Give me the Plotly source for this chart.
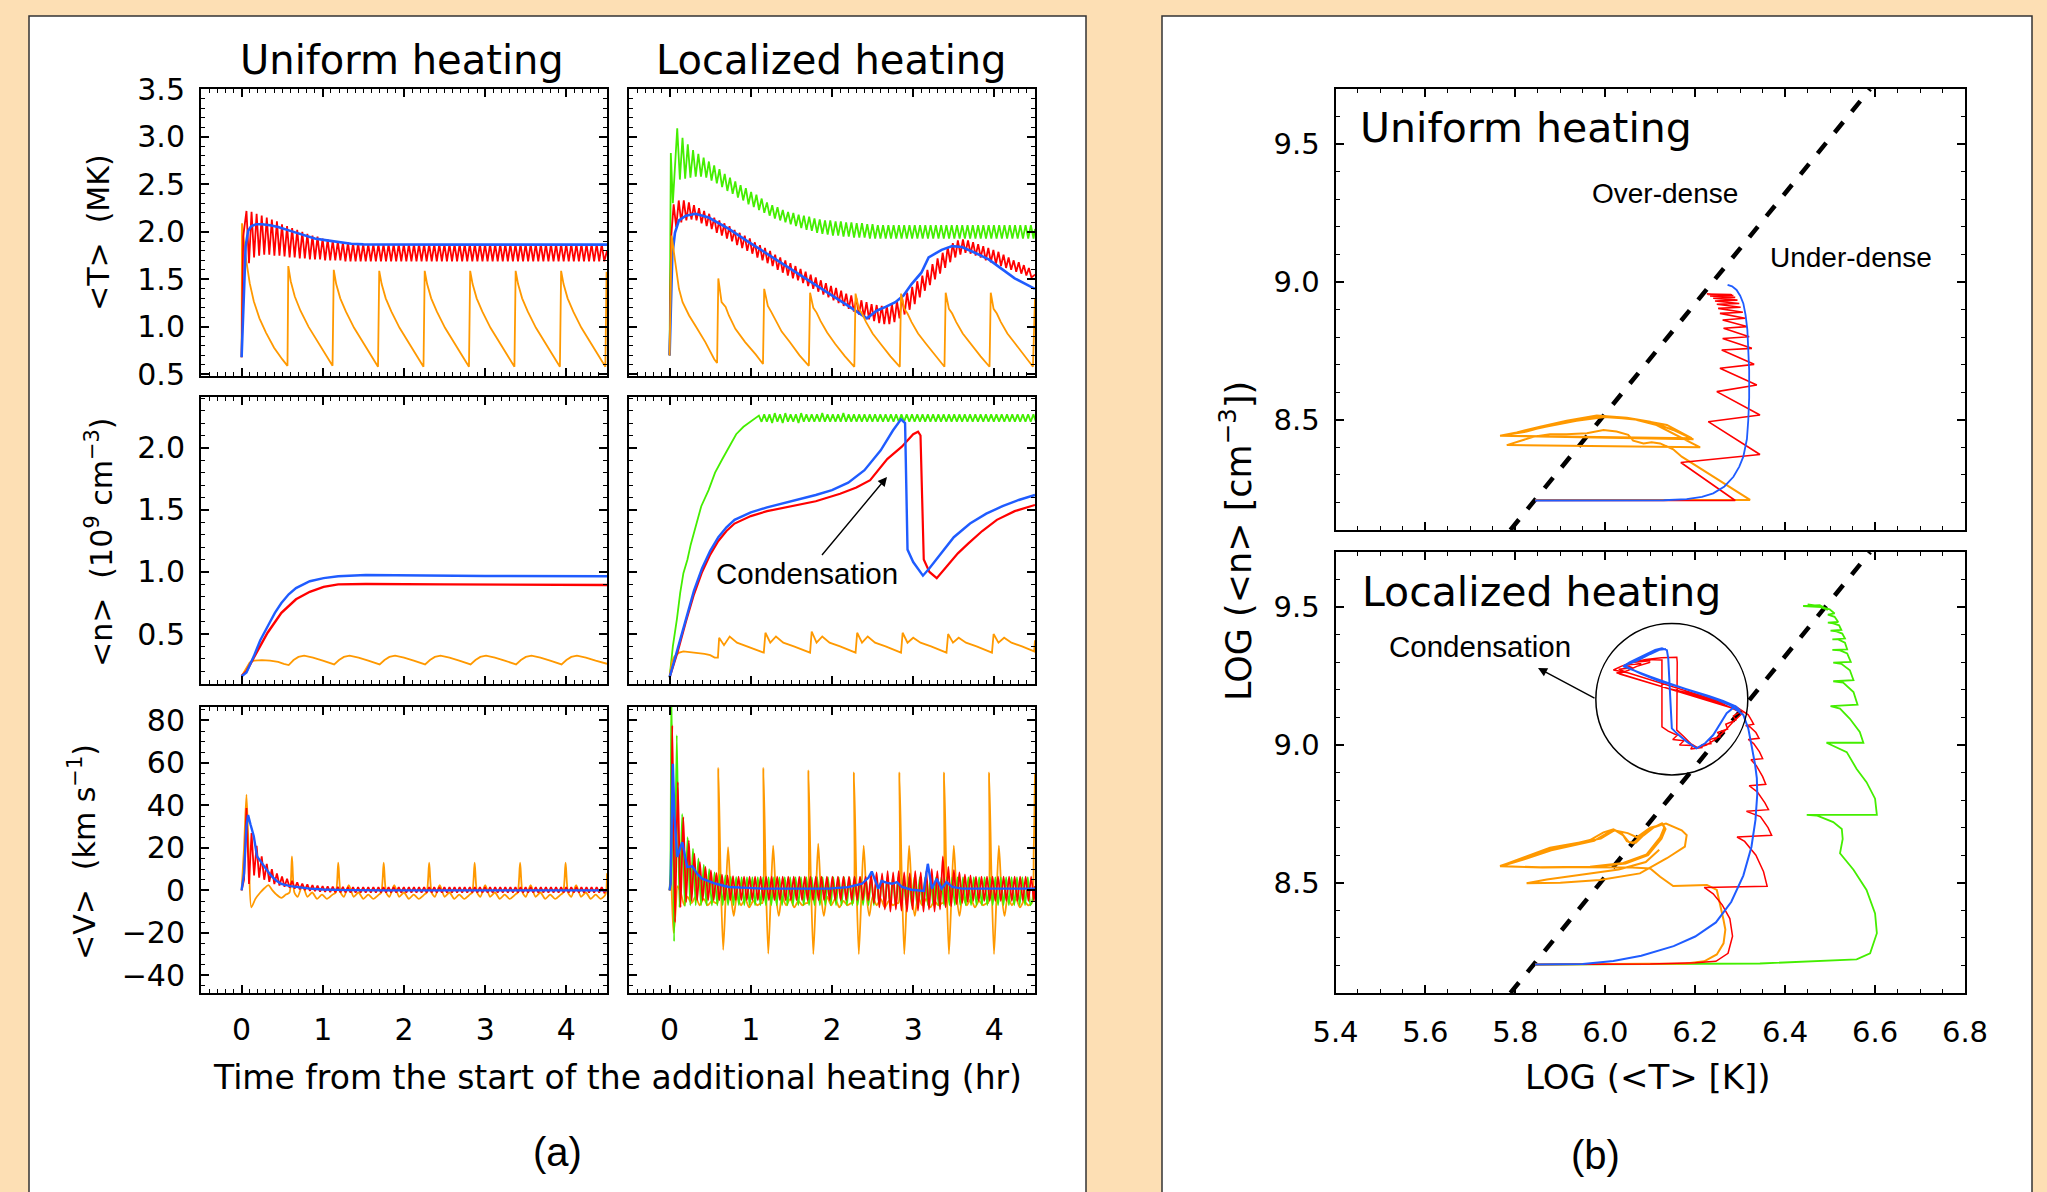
import plotly.graph_objects as go

W, H = 2047, 1192
BG = "#FDDFB4"
BLUE, RED, GREEN, ORANGE = "#1F5CFF", "#FF0000", "#44EE00", "#FF9900"
NUM_FONT = "DejaVu Sans, Verdana, sans-serif"
LBL_FONT = "Liberation Sans, Arial, sans-serif"

# ============================ DATA ============================
# ---------- <T> (MK), uniform heating ----------
UT_BLUE_T = [0.0, 0.02, 0.05, 0.08, 0.12, 0.18, 0.25, 0.35, 0.45, 0.6, 0.75, 0.9, 1.05, 1.2, 1.35, 1.5, 1.8, 2.2, 2.6, 3.0, 3.5, 4.0, 4.5]
UT_BLUE_V = [0.68, 1.20, 1.85, 2.01, 2.06, 2.08, 2.08, 2.07, 2.05, 2.01, 1.97, 1.93, 1.91, 1.89, 1.875, 1.868, 1.865, 1.865, 1.865, 1.865, 1.865, 1.865, 1.865]

UT_RED_PK = [2.22, 2.21, 2.19, 2.17, 2.15, 2.13, 2.11, 2.08, 2.06, 2.04,
             2.02, 2.00, 1.98, 1.96, 1.95, 1.93, 1.92, 1.91, 1.90, 1.89,
             1.89, 1.88, 1.88, 1.87, 1.87, 1.87, 1.87, 1.87, 1.87, 1.87,
             1.87, 1.87, 1.87, 1.87, 1.87, 1.87, 1.87, 1.87, 1.87, 1.87,
             1.87, 1.87, 1.87, 1.87, 1.87, 1.87, 1.87, 1.87, 1.87, 1.87,
             1.87, 1.87, 1.87, 1.87, 1.87, 1.87, 1.87, 1.87, 1.87, 1.87,
             1.87, 1.87, 1.87, 1.87, 1.87, 1.87, 1.87, 1.87, 1.87, 1.87,
             1.87]
UT_RED_TR = [1.67, 1.73, 1.75, 1.76, 1.76, 1.75, 1.75, 1.74, 1.73, 1.73,
             1.72, 1.72, 1.71, 1.71, 1.71, 1.70, 1.70, 1.70, 1.70, 1.69,
             1.69, 1.69, 1.69, 1.69, 1.69, 1.69, 1.69, 1.69, 1.69, 1.69,
             1.69, 1.69, 1.69, 1.69, 1.69, 1.69, 1.69, 1.69, 1.69, 1.69,
             1.69, 1.69, 1.69, 1.69, 1.69, 1.69, 1.69, 1.69, 1.69, 1.69,
             1.69, 1.69, 1.69, 1.69, 1.69, 1.69, 1.69, 1.69, 1.69, 1.69,
             1.69, 1.69, 1.69, 1.69, 1.69, 1.69, 1.69, 1.69, 1.69, 1.69,
             1.69]

UT_ORANGE_T = [0.0, 0.005, 0.05, 0.10, 0.15, 0.22, 0.30, 0.40, 0.50, 0.565,
               0.575, 0.605, 0.655, 0.725, 0.825, 0.925, 1.025, 1.12,
               1.135, 1.165, 1.215, 1.285, 1.385, 1.485, 1.585, 1.68,
               1.695, 1.725, 1.775, 1.845, 1.945, 2.045, 2.145, 2.24,
               2.255, 2.285, 2.335, 2.405, 2.505, 2.605, 2.705, 2.80,
               2.815, 2.845, 2.895, 2.965, 3.065, 3.165, 3.265, 3.36,
               3.375, 3.405, 3.455, 3.525, 3.625, 3.725, 3.825, 3.92,
               3.935, 3.965, 4.015, 4.085, 4.185, 4.285, 4.385, 4.48,
               4.495, 4.50]
UT_ORANGE_V = [0.68, 2.09, 1.74, 1.46, 1.27, 1.09, 0.94, 0.78, 0.66, 0.59,
               1.64, 1.48, 1.32, 1.17, 1.00, 0.86, 0.72, 0.59,
               1.60, 1.45, 1.30, 1.16, 0.99, 0.85, 0.71, 0.58,
               1.59, 1.45, 1.30, 1.16, 0.99, 0.85, 0.71, 0.58,
               1.59, 1.45, 1.30, 1.16, 0.99, 0.85, 0.71, 0.58,
               1.59, 1.45, 1.30, 1.16, 0.99, 0.85, 0.71, 0.58,
               1.59, 1.45, 1.30, 1.16, 0.99, 0.85, 0.71, 0.58,
               1.59, 1.45, 1.30, 1.16, 0.99, 0.85, 0.71, 0.58,
               1.58, 1.50]

# ---------- <T> (MK), localized heating ----------
LT_BLUE_T = [0.0, 0.015, 0.033, 0.066, 0.115, 0.2, 0.32, 0.48, 0.73, 0.98, 1.22, 1.47, 1.71, 1.96, 2.2, 2.43, 2.47,
             2.55, 2.66, 2.78, 2.88, 2.98, 3.1, 3.19, 3.27, 3.35, 3.48, 3.6, 3.76, 3.93, 4.09, 4.25, 4.5]
LT_BLUE_V = [0.70, 1.20, 1.75, 1.99, 2.12, 2.17, 2.19, 2.15, 2.03, 1.89, 1.76, 1.62, 1.49, 1.35, 1.22, 1.09, 1.12,
             1.17, 1.21, 1.26, 1.33, 1.45, 1.57, 1.73, 1.77, 1.81, 1.85, 1.84, 1.78, 1.71, 1.61, 1.51, 1.40]

LT_RED_PK = [2.29, 2.33, 2.33, 2.31, 2.28, 2.25, 2.22, 2.19, 2.15, 2.12,
             2.09, 2.06, 2.02, 1.99, 1.96, 1.93, 1.89, 1.86, 1.83, 1.80,
             1.76, 1.73, 1.70, 1.67, 1.64, 1.61, 1.58, 1.55, 1.52, 1.49,
             1.46, 1.43, 1.41, 1.38, 1.35, 1.33, 1.30, 1.28, 1.26, 1.24,
             1.23, 1.22, 1.22, 1.24, 1.27, 1.31, 1.36, 1.42, 1.48, 1.54,
             1.60, 1.66, 1.72, 1.78, 1.84, 1.88, 1.91, 1.92, 1.91, 1.89,
             1.87, 1.85, 1.83, 1.81, 1.79, 1.76, 1.73, 1.70, 1.68, 1.65,
             1.62]
LT_RED_TR = [2.05, 2.10, 2.12, 2.13, 2.12, 2.09, 2.06, 2.03, 1.99, 1.96,
             1.93, 1.90, 1.86, 1.83, 1.80, 1.77, 1.73, 1.70, 1.67, 1.64,
             1.60, 1.57, 1.54, 1.51, 1.49, 1.46, 1.43, 1.40, 1.37, 1.34,
             1.31, 1.28, 1.25, 1.22, 1.19, 1.16, 1.13, 1.10, 1.08, 1.06,
             1.04, 1.03, 1.03, 1.05, 1.09, 1.13, 1.18, 1.24, 1.31, 1.38,
             1.44, 1.50, 1.56, 1.62, 1.68, 1.73, 1.76, 1.78, 1.77, 1.75,
             1.73, 1.70, 1.68, 1.66, 1.64, 1.62, 1.60, 1.58, 1.56, 1.54,
             1.52]

LT_GREEN_PK = [3.09, 2.99, 2.92, 2.86, 2.82, 2.78, 2.74, 2.70, 2.66, 2.61,
               2.57, 2.53, 2.49, 2.46, 2.42, 2.39, 2.35, 2.31, 2.28, 2.26,
               2.23, 2.21, 2.20, 2.18, 2.17, 2.16, 2.14, 2.13, 2.12, 2.12,
               2.11, 2.11, 2.10, 2.10, 2.09, 2.09, 2.08, 2.08, 2.07, 2.07,
               2.07, 2.07, 2.07, 2.07, 2.07, 2.07, 2.07, 2.07, 2.07, 2.07,
               2.07, 2.07, 2.07, 2.07, 2.07, 2.07, 2.07, 2.07, 2.07, 2.07,
               2.07, 2.07, 2.07, 2.07, 2.07, 2.07, 2.07, 2.07]
LT_GREEN_TR = [2.55, 2.56, 2.57, 2.58, 2.58, 2.57, 2.54, 2.51, 2.47, 2.43,
               2.40, 2.36, 2.33, 2.29, 2.26, 2.23, 2.20, 2.17, 2.14, 2.12,
               2.10, 2.08, 2.06, 2.04, 2.02, 2.01, 1.99, 1.98, 1.97, 1.96,
               1.96, 1.95, 1.95, 1.94, 1.94, 1.94, 1.93, 1.93, 1.93, 1.93,
               1.93, 1.93, 1.93, 1.93, 1.93, 1.93, 1.93, 1.93, 1.93, 1.93,
               1.93, 1.93, 1.93, 1.93, 1.93, 1.93, 1.93, 1.93, 1.93, 1.93,
               1.93, 1.93, 1.93, 1.93, 1.93, 1.93, 1.93, 1.93]

LT_ORANGE_T = [0.0, 0.025, 0.07, 0.115, 0.16, 0.24, 0.32, 0.44, 0.55, 0.585,
               0.60, 0.64, 0.69, 0.73, 0.81, 0.93, 1.06, 1.15,
               1.165, 1.21, 1.25, 1.30, 1.38, 1.48, 1.60, 1.715,
               1.73, 1.77, 1.81, 1.86, 1.94, 2.04, 2.16, 2.275,
               2.29, 2.33, 2.37, 2.42, 2.50, 2.60, 2.72, 2.835,
               2.85, 2.89, 2.93, 2.98, 3.06, 3.16, 3.28, 3.385,
               3.40, 3.44, 3.48, 3.53, 3.61, 3.71, 3.83, 3.94,
               3.955, 3.99, 4.03, 4.08, 4.16, 4.26, 4.38, 4.475,
               4.50]
LT_ORANGE_V = [0.70, 1.96, 1.68, 1.40, 1.26, 1.12, 1.01, 0.84, 0.66, 0.62,
               1.51, 1.26, 1.21, 1.12, 0.98, 0.84, 0.71, 0.61,
               1.40, 1.22, 1.16, 1.08, 0.95, 0.84, 0.70, 0.59,
               1.36, 1.20, 1.15, 1.06, 0.94, 0.82, 0.69, 0.58,
               1.35, 1.19, 1.14, 1.05, 0.93, 0.82, 0.69, 0.58,
               1.35, 1.19, 1.14, 1.05, 0.93, 0.82, 0.69, 0.58,
               1.36, 1.19, 1.14, 1.05, 0.93, 0.82, 0.69, 0.58,
               1.36, 1.19, 1.14, 1.05, 0.93, 0.82, 0.69, 0.58,
               1.30]

# ---------- <n> (1e9 cm^-3), uniform heating ----------
UN_BLUE_T = [0.0, 0.06, 0.15, 0.23, 0.32, 0.41, 0.49, 0.58, 0.67, 0.84, 1.01, 1.19, 1.53, 2.22, 3.0, 4.5]
UN_BLUE_V = [0.16, 0.19, 0.32, 0.45, 0.56, 0.67, 0.75, 0.82, 0.87, 0.925, 0.95, 0.965, 0.976, 0.97, 0.968, 0.965]
UN_RED_T = [0.0, 0.06, 0.15, 0.32, 0.49, 0.67, 0.84, 1.01, 1.19, 1.53, 2.5, 3.5, 4.5]
UN_RED_V = [0.16, 0.20, 0.31, 0.51, 0.67, 0.78, 0.84, 0.88, 0.90, 0.903, 0.90, 0.897, 0.895]
UN_ORANGE_T = [0.0, 0.05, 0.10, 0.15, 0.25, 0.35, 0.45, 0.52,
               0.58, 0.64, 0.70, 0.77, 0.88, 1.00,
               1.14, 1.20, 1.26, 1.33, 1.44, 1.56,
               1.70, 1.76, 1.82, 1.89, 2.00, 2.12,
               2.26, 2.32, 2.38, 2.45, 2.56, 2.68,
               2.82, 2.88, 2.94, 3.01, 3.12, 3.24,
               3.38, 3.44, 3.50, 3.57, 3.68, 3.80,
               3.94, 4.00, 4.06, 4.13, 4.24, 4.36,
               4.50]
UN_ORANGE_V = [0.16, 0.22, 0.27, 0.285, 0.29, 0.285, 0.275, 0.26,
               0.25, 0.29, 0.315, 0.325, 0.31, 0.285,
               0.255, 0.29, 0.315, 0.325, 0.31, 0.285,
               0.255, 0.29, 0.315, 0.325, 0.31, 0.285,
               0.255, 0.29, 0.315, 0.325, 0.31, 0.285,
               0.255, 0.29, 0.315, 0.325, 0.31, 0.285,
               0.255, 0.29, 0.315, 0.325, 0.31, 0.285,
               0.255, 0.29, 0.315, 0.325, 0.31, 0.285,
               0.26]

# ---------- <n>, localized heating ----------
LN_BLUE_T = [0.0, 0.1, 0.2, 0.3, 0.4, 0.5, 0.6, 0.7, 0.8, 1.0, 1.2, 1.5, 1.8, 2.0, 2.2, 2.4, 2.6, 2.75, 2.85, 2.9,
             2.93, 3.0, 3.12, 3.2, 3.35, 3.5, 3.7, 3.9, 4.1, 4.3, 4.5]
LN_BLUE_V = [0.15, 0.38, 0.62, 0.85, 1.03, 1.17, 1.28, 1.36, 1.42, 1.48, 1.52, 1.57, 1.62, 1.66, 1.72, 1.82, 1.98, 2.14, 2.23, 2.20,
             1.18, 1.08, 0.97, 1.03, 1.16, 1.28, 1.39, 1.47, 1.53, 1.58, 1.62]
LN_RED_T = [0.0, 0.1, 0.2, 0.3, 0.4, 0.5, 0.6, 0.7, 0.8, 1.0, 1.2, 1.5, 1.8, 2.1, 2.3, 2.47, 2.6, 2.68, 2.86, 3.0,
            3.06, 3.09, 3.11, 3.13, 3.2, 3.29, 3.42, 3.55, 3.68, 3.85, 4.03, 4.25, 4.5]
LN_RED_V = [0.15, 0.36, 0.60, 0.82, 1.00, 1.14, 1.25, 1.33, 1.39, 1.45, 1.49, 1.53, 1.57, 1.63, 1.68, 1.74, 1.85, 1.91, 2.01, 2.11,
            2.13, 2.10, 1.60, 1.10, 1.00, 0.95, 1.05, 1.15, 1.23, 1.33, 1.42, 1.49, 1.54]
LN_GREEN_RISE_T = [0.0, 0.04, 0.09, 0.13, 0.17, 0.22, 0.26, 0.30, 0.39, 0.48, 0.56, 0.65, 0.74, 0.82, 0.91, 1.04]
LN_GREEN_RISE_V = [0.15, 0.40, 0.62, 0.83, 0.99, 1.10, 1.22, 1.32, 1.53, 1.66, 1.80, 1.91, 2.01, 2.11, 2.17, 2.23]
LN_GREEN_PK = [2.26, 2.27, 2.27, 2.28, 2.27, 2.28, 2.27, 2.27, 2.28, 2.27,
               2.27, 2.27, 2.28, 2.27, 2.27, 2.27, 2.28, 2.27, 2.27, 2.27,
               2.27, 2.27, 2.27, 2.27, 2.27, 2.27, 2.27, 2.27, 2.27, 2.27,
               2.27, 2.27, 2.27, 2.27, 2.27, 2.27, 2.27, 2.27, 2.27, 2.27,
               2.27, 2.27, 2.27, 2.27, 2.27, 2.27, 2.27, 2.27, 2.27, 2.27,
               2.27, 2.27, 2.27]
LN_GREEN_TR = [2.21, 2.21, 2.20, 2.21, 2.20, 2.21, 2.21, 2.20, 2.21, 2.21,
               2.21, 2.21, 2.21, 2.21, 2.21, 2.21, 2.21, 2.21, 2.21, 2.21,
               2.21, 2.21, 2.21, 2.21, 2.21, 2.21, 2.21, 2.21, 2.21, 2.21,
               2.21, 2.21, 2.21, 2.21, 2.21, 2.21, 2.21, 2.21, 2.21, 2.21,
               2.21, 2.21, 2.21, 2.21, 2.21, 2.21, 2.21, 2.21, 2.21, 2.21,
               2.21, 2.21, 2.21]
LN_ORANGE_T = [0.0, 0.03, 0.06, 0.12, 0.17, 0.24, 0.30, 0.36, 0.43, 0.50, 0.555, 0.595,
               0.61, 0.67, 0.74, 0.83, 0.96, 1.08, 1.16,
               1.18, 1.24, 1.31, 1.40, 1.53, 1.65, 1.73,
               1.75, 1.81, 1.88, 1.97, 2.10, 2.22, 2.29,
               2.31, 2.37, 2.44, 2.53, 2.66, 2.78, 2.85,
               2.87, 2.93, 3.00, 3.09, 3.22, 3.34, 3.41,
               3.43, 3.49, 3.56, 3.65, 3.78, 3.90, 3.97,
               3.99, 4.05, 4.12, 4.21, 4.34, 4.46,
               4.49, 4.50]
LN_ORANGE_V = [0.16, 0.28, 0.32, 0.35, 0.36, 0.355, 0.35, 0.345, 0.34, 0.33, 0.31, 0.31,
               0.47, 0.41, 0.48, 0.43, 0.40, 0.37, 0.35,
               0.51, 0.43, 0.48, 0.43, 0.40, 0.37, 0.35,
               0.52, 0.43, 0.48, 0.43, 0.40, 0.37, 0.35,
               0.51, 0.43, 0.48, 0.43, 0.40, 0.37, 0.35,
               0.51, 0.43, 0.47, 0.43, 0.40, 0.37, 0.35,
               0.50, 0.43, 0.47, 0.43, 0.40, 0.37, 0.35,
               0.50, 0.43, 0.47, 0.43, 0.40, 0.37,
               0.36, 0.45]

# ---------- <V> (km/s), uniform heating ----------
UV_BLUE_T = [0.0, 0.03, 0.06, 0.08, 0.11, 0.15, 0.19, 0.25, 0.3, 0.36, 0.43, 0.49, 0.6, 0.72, 0.84, 1.0, 1.3, 1.8, 2.5, 3.5, 4.5]
UV_BLUE_V = [0.0, 8.0, 30.0, 35.5, 31.0, 25.5, 16.0, 13.0, 10.0, 7.0, 4.5, 3.0, 2.0, 1.3, 0.8, 0.4, 0.1, 0.0, 0.0, 0.0, 0.0]
UV_RED_PK = [38.7, 27.0, 21.0, 16.0, 12.5, 10.0, 8.0, 6.5, 5.5, 4.5,
             3.8, 3.2, 2.8, 2.5, 2.2, 2.0, 1.9, 1.8, 1.7, 1.6,
             1.5, 1.5, 1.5, 1.5, 1.5, 1.5, 1.5, 1.5, 1.5, 1.5,
             1.5, 1.5, 1.5, 1.5, 1.5, 1.5, 1.5, 1.5, 1.5, 1.5,
             1.5, 1.5, 1.5, 1.5, 1.5, 1.5, 1.5, 1.5, 1.5, 1.5,
             1.5, 1.5, 1.5, 1.5, 1.5, 1.5, 1.5, 1.5, 1.5, 1.5,
             1.5, 1.5, 1.5, 1.5, 1.5, 1.5, 1.5, 1.5, 1.5, 1.5,
             1.5]
UV_RED_TR = [3.0, 7.0, 6.0, 5.0, 4.0, 3.0, 2.3, 1.7, 1.2, 0.8,
             0.4, 0.1, -0.2, -0.4, -0.6, -0.7, -0.8, -0.9, -1.0, -1.0,
             -1.0, -1.0, -1.0, -1.0, -1.0, -1.0, -1.0, -1.0, -1.0, -1.0,
             -1.0, -1.0, -1.0, -1.0, -1.0, -1.0, -1.0, -1.0, -1.0, -1.0,
             -1.0, -1.0, -1.0, -1.0, -1.0, -1.0, -1.0, -1.0, -1.0, -1.0,
             -1.0, -1.0, -1.0, -1.0, -1.0, -1.0, -1.0, -1.0, -1.0, -1.0,
             -1.0, -1.0, -1.0, -1.0, -1.0, -1.0, -1.0, -1.0, -1.0, -1.0,
             -1.0]
UV_ORANGE_T = [0.0, 0.03, 0.06, 0.09, 0.12, 0.17, 0.23, 0.28, 0.33, 0.38, 0.43, 0.49, 0.545,
               0.59, 0.62, 0.65, 0.69, 0.75, 0.81, 0.87, 0.93, 0.99, 1.05, 1.12,
               1.16, 1.19, 1.22, 1.26, 1.32, 1.38, 1.44, 1.50, 1.56, 1.62, 1.69,
               1.72, 1.75, 1.78, 1.82, 1.88, 1.94, 2.00, 2.06, 2.12, 2.18, 2.25,
               2.28, 2.31, 2.34, 2.38, 2.44, 2.50, 2.56, 2.62, 2.68, 2.74, 2.81,
               2.84, 2.87, 2.90, 2.94, 3.00, 3.06, 3.12, 3.18, 3.24, 3.30, 3.37,
               3.40, 3.43, 3.46, 3.50, 3.56, 3.62, 3.68, 3.74, 3.80, 3.86, 3.93,
               3.96, 3.99, 4.02, 4.06, 4.12, 4.18, 4.24, 4.30, 4.36, 4.42, 4.48,
               4.50]
UV_ORANGE_V = [0.0, 20.0, 45.0, 15.0, -8.0, -4.0, -1.0, 1.0, 2.5, 0.0, -2.0, -3.5, -2.0,
               -1.0, 16.0, -1.0, -3.0, 2.5, -3.0, -1.0, -4.0, -2.0, -4.0, -2.0,
               -1.0, 13.0, -1.0, -3.0, 2.5, -3.0, -1.0, -4.0, -2.0, -4.0, -2.0,
               -1.0, 13.0, -1.0, -3.0, 2.5, -3.0, -1.0, -4.0, -2.0, -4.0, -2.0,
               -1.0, 13.0, -1.0, -3.0, 2.5, -3.0, -1.0, -4.0, -2.0, -4.0, -2.0,
               -1.0, 13.0, -1.0, -3.0, 2.5, -3.0, -1.0, -4.0, -2.0, -4.0, -2.0,
               -1.0, 13.0, -1.0, -3.0, 2.5, -3.0, -1.0, -4.0, -2.0, -4.0, -2.0,
               -1.0, 13.0, -1.0, -3.0, 2.5, -3.0, -1.0, -4.0, -2.0, -4.0, -2.0,
               8.0]

# ---------- <V>, localized heating ----------
LV_BLUE_T = [0.0, 0.012, 0.025, 0.04, 0.06, 0.094, 0.13, 0.156, 0.217, 0.28, 0.34, 0.4, 0.57, 0.73, 1.14, 1.96, 2.2, 2.37, 2.45,
             2.49, 2.57, 2.61, 2.68, 2.74, 2.8, 2.86, 2.98, 3.13, 3.18, 3.23, 3.29, 3.35, 3.41, 3.48, 3.6, 4.0, 4.5]
LV_BLUE_V = [0.0, 3.0, 30.0, 59.6, 35.0, 15.7, 20.0, 22.7, 11.0, 11.3, 7.8, 5.5, 3.1, 1.6, 0.8, 0.8, 1.5, 3.1, 6.0,
             8.9, 0.8, 4.4, 3.5, 3.1, 3.9, 1.6, 0.3, -0.3, 12.5, 0.8, 5.5, 0.8, 3.9, 1.6, 0.8, 0.7, 0.8]
LV_RED_PK = [77.6, 51.0, 34.5, 23.5, 17.3, 13.3, 11.0, 9.4, 8.2, 7.4,
             7.0, 6.7, 6.5, 6.5, 6.5, 6.5, 6.5, 6.5, 6.5, 6.5,
             6.5, 6.5, 6.5, 6.5, 6.5, 6.5, 6.5, 6.5, 6.5, 6.5,
             6.5, 6.5, 6.5, 6.5, 6.5, 6.5, 7.5, 8.5, 8.0, 9.0,
             8.5, 9.0, 8.5, 8.0, 9.0, 8.5, 9.0, 10.0, 9.0, 16.0,
             11.0, 9.5, 8.5, 7.5, 7.0, 6.5, 6.5, 6.5, 6.5, 6.5,
             6.5, 6.5, 6.5, 6.5, 6.5, 6.5]
LV_RED_TR = [-15.0, -8.0, -5.5, -5.0, -4.7, -4.7, -4.7, -4.7, -4.7, -4.7,
             -4.7, -4.7, -4.7, -4.7, -4.7, -4.7, -4.7, -4.7, -4.7, -4.7,
             -4.7, -4.7, -4.7, -4.7, -4.7, -4.7, -4.7, -4.7, -4.7, -4.7,
             -4.7, -4.7, -4.7, -4.7, -4.7, -4.7, -6.0, -8.0, -9.0, -10.0,
             -9.0, -9.5, -10.0, -9.0, -9.5, -10.0, -9.0, -10.0, -9.0, -8.0,
             -7.5, -6.5, -6.0, -5.5, -5.0, -5.0, -5.0, -5.0, -5.0, -5.0,
             -5.0, -5.0, -5.0, -5.0, -5.0, -5.0]
LV_GREEN_PK = [95.0, 73.0, 36.0, 25.0, 19.6, 15.0, 12.0, 10.0, 8.5, 7.5,
               7.0, 6.5, 6.3, 6.2, 6.2, 6.2, 6.2, 6.2, 6.2, 6.2,
               6.2, 6.2, 6.2, 6.2, 6.2, 6.2, 6.2, 6.2, 6.2, 6.2,
               6.2, 6.2, 6.2, 6.2, 6.2, 6.2, 6.2, 6.2, 6.2, 6.2,
               6.2, 6.2, 6.2, 6.2, 6.2, 6.2, 6.2, 6.2, 6.2, 6.2,
               6.2, 6.2, 6.2, 6.2, 6.2, 6.2, 6.2, 6.2, 6.2, 6.2,
               6.2, 6.2, 6.2, 6.2, 6.2, 6.2, 6.2]
LV_GREEN_TR = [-24.0, -8.0, -7.5, -7.0, -7.0, -7.0, -7.0, -7.0, -7.0, -7.0,
               -7.0, -7.0, -7.0, -7.0, -7.0, -7.0, -7.0, -7.0, -7.0, -7.0,
               -7.0, -7.0, -7.0, -7.0, -7.0, -7.0, -7.0, -7.0, -7.0, -7.0,
               -7.0, -7.0, -7.0, -7.0, -7.0, -7.0, -7.0, -7.0, -7.0, -7.0,
               -7.0, -7.0, -7.0, -7.0, -7.0, -7.0, -7.0, -7.0, -7.0, -7.0,
               -7.0, -7.0, -7.0, -7.0, -7.0, -7.0, -7.0, -7.0, -7.0, -7.0,
               -7.0, -7.0, -7.0, -7.0, -7.0, -7.0, -7.0]
LV_ORANGE_T = [0.0, 0.015, 0.035, 0.05, 0.07, 0.10, 0.14, 0.18, 0.22, 0.27, 0.32, 0.37, 0.42, 0.47, 0.52, 0.57,
               0.588, 0.60, 0.63, 0.66, 0.69, 0.72, 0.755, 0.79, 0.83, 0.88, 0.93, 0.98, 1.03, 1.08, 1.125,
               1.143, 1.155, 1.185, 1.215, 1.245, 1.275, 1.31, 1.345, 1.385, 1.435, 1.485, 1.535, 1.585, 1.635, 1.68,
               1.698, 1.71, 1.74, 1.77, 1.80, 1.83, 1.865, 1.90, 1.94, 1.99, 2.04, 2.09, 2.14, 2.19, 2.235,
               2.258, 2.27, 2.30, 2.33, 2.36, 2.39, 2.425, 2.46, 2.50, 2.55, 2.60, 2.65, 2.70, 2.75, 2.795,
               2.818, 2.83, 2.86, 2.89, 2.92, 2.95, 2.985, 3.02, 3.06, 3.11, 3.16, 3.21, 3.26, 3.31, 3.355,
               3.368, 3.38, 3.41, 3.44, 3.47, 3.50, 3.535, 3.57, 3.61, 3.66, 3.71, 3.76, 3.81, 3.86, 3.905,
               3.923, 3.935, 3.965, 3.995, 4.025, 4.055, 4.09, 4.125, 4.165, 4.215, 4.265, 4.315, 4.365, 4.415, 4.46,
               4.485, 4.50]
LV_ORANGE_V = [0.0, 8.0, -10.0, -20.0, -12.0, 2.0, -1.5, -7.0, -3.0, -6.0, -3.0, -7.0, -4.0, -7.0, -5.0, -6.0,
               -6.0, 57.6, 5.0, -28.0, -4.0, 20.4, -2.0, -12.0, -3.0, -7.0, -4.0, -8.0, -5.0, -7.0, -6.0,
               -6.0, 57.6, 5.0, -29.8, -4.0, 21.0, -2.0, -12.0, -3.0, -7.0, -4.0, -8.0, -5.0, -7.0, -6.0,
               -6.0, 56.5, 5.0, -30.0, -4.0, 22.0, -2.0, -12.0, -3.0, -7.0, -4.0, -8.0, -5.0, -7.0, -6.0,
               -6.0, 55.5, 5.0, -30.0, -4.0, 21.0, -2.0, -12.0, -3.0, -7.0, -4.0, -8.0, -5.0, -7.0, -6.0,
               -6.0, 55.5, 5.0, -30.0, -4.0, 21.0, -2.0, -12.0, -3.0, -7.0, -4.0, -8.0, -5.0, -7.0, -6.0,
               -6.0, 55.5, 5.0, -30.0, -4.0, 21.0, -2.0, -12.0, -3.0, -7.0, -4.0, -8.0, -5.0, -7.0, -6.0,
               -6.0, 55.5, 5.0, -30.0, -4.0, 21.0, -2.0, -12.0, -3.0, -7.0, -4.0, -8.0, -5.0, -7.0, -6.0,
               20.0, 55.0]

# ---------- (b) LOG <n> vs LOG <T> ----------
DASH_LOGT = [5.789, 6.589]
DASH_LOGN = [8.1, 9.7]

D1_BLUE = [(5.844, 8.207), (5.95, 8.207), (6.05, 8.207), (6.13, 8.208), (6.181, 8.212), (6.215, 8.22), (6.240, 8.233),
           (6.265, 8.258), (6.285, 8.293), (6.298, 8.33), (6.307, 8.366), (6.315, 8.43), (6.318, 8.499), (6.320, 8.58),
           (6.320, 8.680), (6.318, 8.76), (6.316, 8.826), (6.312, 8.88), (6.307, 8.922), (6.300, 8.95), (6.292, 8.971),
           (6.282, 8.984), (6.272, 8.989)]
D1_RED = [(5.844, 8.207), (6.289, 8.207), (6.168, 8.345), (6.344, 8.374), (6.229, 8.493), (6.344, 8.517),
          (6.248, 8.602), (6.337, 8.626), (6.255, 8.687), (6.331, 8.701), (6.259, 8.753), (6.326, 8.759),
          (6.261, 8.795), (6.320, 8.801), (6.263, 8.832), (6.315, 8.838), (6.261, 8.862), (6.311, 8.868),
          (6.255, 8.886), (6.306, 8.890), (6.251, 8.904), (6.301, 8.908), (6.248, 8.919), (6.298, 8.922),
          (6.244, 8.931), (6.294, 8.934), (6.240, 8.941), (6.289, 8.944), (6.233, 8.949), (6.285, 8.951),
          (6.226, 8.956), (6.277, 8.956), (6.226, 8.956), (6.280, 8.954), (6.228, 8.955), (6.282, 8.953)]
D1_ORANGE = [(5.844, 8.209), (6.322, 8.209), (6.170, 8.366), (6.151, 8.393), (6.122, 8.414), (6.103, 8.418),
             (6.085, 8.414), (6.062, 8.424), (6.051, 8.445), (6.025, 8.457), (5.996, 8.463), (5.959, 8.451),
             (5.914, 8.447), (5.877, 8.447), (5.840, 8.438), (5.810, 8.424), (5.781, 8.408), (6.211, 8.400),
             (6.166, 8.438), (6.114, 8.481), (6.062, 8.503), (5.988, 8.511), (5.929, 8.499), (5.877, 8.481),
             (5.825, 8.457), (5.766, 8.442), (6.196, 8.429), (6.151, 8.463), (6.100, 8.493), (6.048, 8.507),
             (5.981, 8.515), (5.914, 8.496), (5.855, 8.475), (5.803, 8.454), (5.766, 8.442), (6.192, 8.433),
             (6.137, 8.481), (6.077, 8.499), (6.003, 8.511), (5.936, 8.496), (5.870, 8.475), (5.810, 8.453),
             (5.770, 8.441)]

D2_GREEN = [(5.844, 8.203), (6.10, 8.204), (6.344, 8.207), (6.559, 8.222), (6.589, 8.244), (6.604, 8.317),
            (6.600, 8.389), (6.581, 8.474), (6.552, 8.547), (6.522, 8.607), (6.528, 8.659), (6.526, 8.695),
            (6.507, 8.720), (6.470, 8.744), (6.448, 8.746), (6.604, 8.746), (6.600, 8.805), (6.581, 8.865),
            (6.559, 8.913), (6.537, 8.974), (6.492, 9.008), (6.574, 9.008), (6.566, 9.047), (6.544, 9.095),
            (6.522, 9.132), (6.501, 9.141), (6.561, 9.146), (6.552, 9.192), (6.529, 9.226), (6.507, 9.231),
            (6.552, 9.235), (6.544, 9.271), (6.525, 9.294), (6.507, 9.299), (6.546, 9.301), (6.538, 9.332),
            (6.522, 9.343), (6.505, 9.345), (6.538, 9.347), (6.533, 9.371), (6.518, 9.383), (6.505, 9.383),
            (6.533, 9.386), (6.527, 9.404), (6.514, 9.412), (6.501, 9.415), (6.525, 9.417), (6.520, 9.434),
            (6.507, 9.441), (6.495, 9.444), (6.518, 9.446), (6.510, 9.465), (6.495, 9.473), (6.510, 9.477),
            (6.499, 9.492), (6.481, 9.500), (6.455, 9.504), (6.440, 9.504), (6.477, 9.507), (6.495, 9.490),
            (6.470, 9.505), (6.450, 9.510)]
D2_BLUE = [(5.844, 8.203), (5.95, 8.205), (6.018, 8.216), (6.08, 8.235), (6.152, 8.270), (6.20, 8.305), (6.246, 8.356),
           (6.28, 8.43), (6.307, 8.526), (6.325, 8.63), (6.334, 8.728), (6.338, 8.821), (6.337, 8.88), (6.333, 8.93),
           (6.325, 9.0), (6.318, 9.06), (6.307, 9.109), (6.277, 9.145), (6.248, 9.165), (6.211, 9.185), (6.174, 9.205),
           (6.144, 9.222), (6.100, 9.248), (6.062, 9.270), (6.040, 9.285), (6.055, 9.300), (6.085, 9.325),
           (6.111, 9.345), (6.126, 9.351), (6.137, 9.344), (6.140, 9.314), (6.142, 9.25), (6.144, 9.169),
           (6.148, 9.060), (6.159, 9.042), (6.181, 9.012), (6.203, 8.988), (6.222, 9.006), (6.240, 9.036),
           (6.259, 9.084), (6.270, 9.115), (6.285, 9.135), (6.300, 9.125), (6.290, 9.14), (6.262, 9.16),
           (6.230, 9.178), (6.195, 9.195), (6.160, 9.21), (6.120, 9.232), (6.080, 9.258), (6.048, 9.283),
           (6.045, 9.29), (6.070, 9.305), (6.100, 9.33), (6.120, 9.345), (6.135, 9.348)]
D2_RED = [(5.844, 8.203), (6.10, 8.205), (6.20, 8.21), (6.246, 8.215), (6.273, 8.244), (6.283, 8.306), (6.277, 8.37),
          (6.260, 8.42), (6.240, 8.46), (6.220, 8.483),
          (6.360, 8.487), (6.352, 8.54), (6.335, 8.60), (6.310, 8.65), (6.293, 8.666),
          (6.370, 8.672), (6.362, 8.70), (6.345, 8.74), (6.314, 8.759),
          (6.363, 8.765), (6.355, 8.79), (6.338, 8.83), (6.320, 8.852),
          (6.357, 8.857), (6.350, 8.885), (6.336, 8.925), (6.324, 8.946),
          (6.350, 8.950), (6.343, 8.975), (6.330, 9.005), (6.318, 9.02),
          (6.342, 9.024), (6.335, 9.045), (6.322, 9.065), (6.312, 9.07),
          (6.330, 9.075), (6.325, 9.09), (6.318, 9.109),
          (6.29, 9.14), (6.25, 9.16), (6.21, 9.18), (6.17, 9.20), (6.13, 9.22), (6.09, 9.24), (6.05, 9.262),
          (6.018, 9.272), (6.035, 9.285), (6.06, 9.30), (6.09, 9.31), (6.125, 9.316), (6.159, 9.318), (6.160, 9.30),
          (6.159, 9.054), (6.175, 9.03), (6.19, 9.005), (6.205, 8.99), (6.225, 9.0), (6.245, 9.02), (6.265, 9.05),
          (6.285, 9.085), (6.305, 9.115),
          (6.28, 9.135), (6.24, 9.155), (6.20, 9.175), (6.16, 9.195), (6.12, 9.215), (6.08, 9.235), (6.04, 9.255),
          (6.025, 9.262), (6.045, 9.265), (6.03, 9.275), (6.06, 9.28), (6.045, 9.29), (6.08, 9.295), (6.065, 9.30),
          (6.10, 9.305), (6.09, 9.31), (6.126, 9.308), (6.126, 9.066), (6.14, 9.05), (6.16, 9.035), (6.15, 9.02),
          (6.175, 9.015), (6.165, 9.0), (6.195, 8.998), (6.19, 8.985), (6.215, 8.99), (6.215, 9.0), (6.235, 9.005),
          (6.232, 9.02), (6.255, 9.03), (6.25, 9.045), (6.272, 9.058), (6.268, 9.075), (6.29, 9.09), (6.285, 9.105),
          (6.30, 9.12),
          (6.26, 9.15), (6.22, 9.17), (6.18, 9.19), (6.14, 9.205), (6.10, 9.225), (6.06, 9.245), (6.03, 9.258),
          (6.05, 9.27), (6.07, 9.285), (6.10, 9.30)]
D2_ORANGE = [(5.844, 8.203), (6.10, 8.205), (6.18, 8.207), (6.22, 8.215), (6.248, 8.24), (6.263, 8.28), (6.267, 8.33),
             (6.263, 8.365), (6.255, 8.42), (6.248, 8.474), (6.226, 8.492), (6.19, 8.49), (6.151, 8.488),
             (6.122, 8.522), (6.100, 8.552), (6.06, 8.555), (5.99, 8.556), (5.90, 8.556), (5.82, 8.557),
             (5.766, 8.561),
             (5.818, 8.589), (5.877, 8.622), (5.929, 8.641), (5.966, 8.655), (5.996, 8.683), (6.018, 8.694),
             (6.037, 8.679), (6.048, 8.651), (6.062, 8.643), (6.077, 8.665), (6.100, 8.695), (6.126, 8.716),
             (6.131, 8.700), (6.122, 8.665), (6.092, 8.603), (6.040, 8.572), (5.966, 8.558), (5.855, 8.556),
             (5.768, 8.560),
             (5.820, 8.585), (5.880, 8.618), (5.935, 8.638), (5.975, 8.652), (6.002, 8.678), (6.022, 8.690),
             (6.040, 8.672), (6.052, 8.648), (6.068, 8.645), (6.085, 8.672), (6.107, 8.700), (6.128, 8.712),
             (6.134, 8.695), (6.125, 8.660), (6.095, 8.600), (6.045, 8.570), (5.970, 8.557), (5.860, 8.555),
             (5.766, 8.560),
             (5.818, 8.592), (5.877, 8.627), (5.940, 8.645), (5.990, 8.660), (6.020, 8.690), (6.050, 8.680),
             (6.070, 8.665), (6.100, 8.700), (6.135, 8.715), (6.144, 8.709), (6.170, 8.690), (6.181, 8.673),
             (6.177, 8.631), (6.137, 8.589), (6.077, 8.534), (5.988, 8.510), (5.900, 8.500), (5.825, 8.498),
             (5.870, 8.512), (5.950, 8.530), (6.030, 8.548), (6.090, 8.575), (6.120, 8.620)]

# Condensation circle (data units of the localized phase diagram)
CIRCLE_LOGT = [5.979, 6.317]
CIRCLE_LOGN = [8.891, 9.441]


# ============================ HELPERS ============================
def zig(pre_t, pre_v, t0, period, peaks, troughs, post_t, post_v):
    """Interleave the read-off peak/trough values on the regular oscillation sampling."""
    t, v = list(pre_t), list(pre_v)
    for i, (p, q) in enumerate(zip(peaks, troughs)):
        t.extend([t0 + i * period, t0 + (i + 0.5) * period])
        v.extend([p, q])
    return t + list(post_t), v + list(post_v)


fig = go.Figure()


def ax_name(k, axis):
    return axis if k == 1 else f"{axis}{k}"


def add(k, xs, ys, color, width, shape="linear", dash="solid"):
    line = dict(color=color, width=width, shape=shape, dash=dash)
    if shape == "spline":
        line["smoothing"] = 0.7
    fig.add_trace(go.Scatter(x=xs, y=ys, mode="lines", line=line,
                             xaxis=ax_name(k, "x"), yaxis=ax_name(k, "y"),
                             hoverinfo="skip", showlegend=False))


def pairs(seq):
    return [p[0] for p in seq], [p[1] for p in seq]


# ---- panel 1: T uniform ----
add(1, UT_ORANGE_T, UT_ORANGE_V, ORANGE, 1.8)
t, v = zig([0.0, 0.02], [0.68, 1.95], 0.06, 0.0625, UT_RED_PK, UT_RED_TR, [4.5], [1.80])
add(1, t, v, RED, 1.8)
add(1, UT_BLUE_T, UT_BLUE_V, BLUE, 2.6)

# ---- panel 2: T localized ----
t, v = zig([0.0, 0.015, 0.04], [0.70, 2.83, 2.30], 0.094, 0.065, LT_GREEN_PK, LT_GREEN_TR, [4.5], [2.03])
add(2, t, v, GREEN, 1.8)
t, v = zig([0.0, 0.02], [0.70, 1.95], 0.05, 0.0625, LT_RED_PK, LT_RED_TR, [4.5], [1.55])
add(2, t, v, RED, 1.8)
add(2, LT_BLUE_T, LT_BLUE_V, BLUE, 2.6)
add(2, LT_ORANGE_T, LT_ORANGE_V, ORANGE, 1.8)

# ---- panel 3: n uniform ----
add(3, UN_ORANGE_T, UN_ORANGE_V, ORANGE, 1.8)
add(3, UN_RED_T, UN_RED_V, RED, 2.4)
add(3, UN_BLUE_T, UN_BLUE_V, BLUE, 2.4)

# ---- panel 4: n localized ----
t, v = zig(LN_GREEN_RISE_T, LN_GREEN_RISE_V, 1.1, 0.065, LN_GREEN_PK, LN_GREEN_TR, [4.5], [2.24])
add(4, t, v, GREEN, 1.8)
add(4, LN_ORANGE_T, LN_ORANGE_V, ORANGE, 1.8)
add(4, LN_RED_T, LN_RED_V, RED, 2.2)
add(4, LN_BLUE_T, LN_BLUE_V, BLUE, 2.4)

# ---- panel 5: V uniform ----
add(5, UV_ORANGE_T, UV_ORANGE_V, ORANGE, 1.8, "spline")
t, v = zig([0.0, 0.03], [0.0, 5.0], 0.06, 0.0625, UV_RED_PK, UV_RED_TR, [4.5], [0.5])
add(5, t, v, RED, 1.8)
add(5, UV_BLUE_T, UV_BLUE_V, BLUE, 2.4)

# ---- panel 6: V localized ----
add(6, LV_ORANGE_T, LV_ORANGE_V, ORANGE, 1.8, "spline")
t, v = zig([0.0, 0.01], [0.0, 10.0], 0.022, 0.0665, LV_GREEN_PK, LV_GREEN_TR, [4.5], [0.0])
add(6, t, v, GREEN, 1.8, "spline")
t, v = zig([0.0, 0.015], [0.0, 5.0], 0.033, 0.068, LV_RED_PK, LV_RED_TR, [4.5], [2.0])
add(6, t, v, RED, 1.8, "spline")
add(6, LV_BLUE_T, LV_BLUE_V, BLUE, 2.4)

# ---- panel 7: phase diagram, uniform ----
add(7, DASH_LOGT, DASH_LOGN, "black", 4.5, dash="dash")
add(7, *pairs(D1_ORANGE), ORANGE, 2.0)
add(7, *pairs(D1_RED), RED, 1.6)
add(7, *pairs(D1_BLUE), BLUE, 1.8)

# ---- panel 8: phase diagram, localized ----
add(8, DASH_LOGT, DASH_LOGN, "black", 4.5, dash="dash")
add(8, *pairs(D2_GREEN), GREEN, 1.8)
add(8, *pairs(D2_ORANGE), ORANGE, 2.0)
add(8, *pairs(D2_RED), RED, 1.5)
add(8, *pairs(D2_BLUE), BLUE, 2.0)

# ============================ LAYOUT ============================
BOX = {1: (201, 607, 89, 376), 2: (629, 1035, 89, 376),
       3: (201, 607, 397, 684), 4: (629, 1035, 397, 684),
       5: (201, 607, 707, 993), 6: (629, 1035, 707, 993),
       7: (1335.5, 1965, 89, 530), 8: (1335.5, 1965, 552, 993)}


def axis(k, which, rng, tick0, dtick, minor, labels, fmt, size, standoff, ticklen=8):
    x0, x1, y0, y1 = BOX[k]
    dom = [x0 / W, x1 / W] if which == "x" else [1 - y1 / H, 1 - y0 / H]
    return dict(domain=dom, range=rng, anchor=ax_name(k, "y" if which == "x" else "x"),
                showline=True, linecolor="black", linewidth=2, mirror="allticks",
                ticks="inside", ticklen=ticklen, tickwidth=2, tickcolor="black",
                tickmode="linear", tick0=tick0, dtick=dtick,
                minor=dict(ticks="inside", ticklen=4, tickwidth=1.4, tickcolor="black",
                           tickmode="linear", tick0=tick0, dtick=minor, showgrid=False),
                showgrid=False, zeroline=False, showticklabels=labels, tickformat=fmt,
                tickfont=dict(family=NUM_FONT, size=size, color="black"),
                ticklabelstandoff=standoff, automargin=False, fixedrange=True)


lay = {}
YR = {1: [0.483, 3.503], 2: [0.483, 3.503], 3: [0.097, 2.41], 4: [0.097, 2.41], 5: [-48.3, 86.3], 6: [-48.3, 86.3]}
YT = {1: (0.5, 0.5, 0.1, ".1f"), 2: (0.5, 0.5, 0.1, ".1f"), 3: (0.5, 0.5, 0.1, ".1f"), 4: (0.5, 0.5, 0.1, ".1f"),
      5: (0, 20, 5, ""), 6: (0, 20, 5, "")}
for k in range(1, 7):
    lay[ax_name(k, "xaxis")] = axis(k, "x", [-0.5, 4.5], 0, 1, 0.1, k in (5, 6), "", 30, 9)
    t0, dt, mn, fmt = YT[k]
    lay[ax_name(k, "yaxis")] = axis(k, "y", YR[k], t0, dt, mn, k in (1, 3, 5), fmt, 30, 8)
for k in (7, 8):
    lay[ax_name(k, "xaxis")] = axis(k, "x", [5.4, 6.8], 5.4, 0.2, 0.05, k == 8, ".1f", 29, 12)
    lay[ax_name(k, "yaxis")] = axis(k, "y", [8.1, 9.7], 8.5, 0.5, 0.1, True, ".1f", 29, 8)

fig.update_layout(width=W, height=H, autosize=False,
                  margin=dict(l=0, r=0, t=0, b=0, pad=0, autoexpand=False),
                  paper_bgcolor=BG, plot_bgcolor="white", showlegend=False, hovermode=False, **lay)

# white panels
for x0, x1 in ((29, 1086), (1162, 2032)):
    fig.add_shape(type="rect", xref="paper", yref="paper", x0=x0 / W, x1=x1 / W, y0=-0.02, y1=1 - 16 / H,
                  fillcolor="white", line=dict(color="#333333", width=1.5), layer="below")

# condensation circle
fig.add_shape(type="circle", xref="x8", yref="y8", x0=CIRCLE_LOGT[0], x1=CIRCLE_LOGT[1],
              y0=CIRCLE_LOGN[0], y1=CIRCLE_LOGN[1], line=dict(color="black", width=1.5))


def ann(text, px, py, size, family=NUM_FONT, angle=0, xanchor="center", yanchor="middle"):
    fig.add_annotation(text=text, x=px / W, y=1 - py / H, xref="paper", yref="paper", showarrow=False,
                       font=dict(family=family, size=size, color="black"), textangle=angle,
                       xanchor=xanchor, yanchor=yanchor)


NB = "\u00a0"
ann("Uniform heating", 402, 60, 40)
ann("Localized heating", 831, 60, 40)
ann(f"&lt;T&gt;{NB}{NB}(MK)", 99, 233, 30, angle=-90)
ann(f"&lt;n&gt;{NB}{NB}(10<sup>9</sup>{NB}cm<sup>−3</sup>)", 99, 542, 30, angle=-90)
ann(f"&lt;V&gt;{NB}{NB}(km{NB}s<sup>−1</sup>)", 82, 852, 30, angle=-90)
ann("Time from the start of the additional heating (hr)", 617, 1077, 33)
ann("(a)", 557, 1152, 40, family=LBL_FONT)

ann("Uniform heating", 1358, 128, 41, xanchor="left")
ann("Localized heating", 1360, 592, 41, xanchor="left")
ann("Over-dense", 1665, 193, 28, family=LBL_FONT)
ann("Under-dense", 1851, 258, 28, family=LBL_FONT)
ann("Condensation", 1480, 646, 29.5, family=LBL_FONT)
ann(f"LOG{NB}(&lt;n&gt;{NB}[cm<sup>−3</sup>])", 1236, 541, 35, angle=-90)
ann(f"LOG{NB}(&lt;T&gt;{NB}[K])", 1648, 1077, 34)
ann("(b)", 1595, 1155, 40, family=LBL_FONT)

# left condensation label carries its own arrow (text centred at 807,573; head at 887,477)
fig.add_annotation(x=887 / W, y=1 - 477 / H, xref="paper", yref="paper", text="Condensation",
                   font=dict(family=LBL_FONT, size=29.5, color="black"), showarrow=True,
                   ax=-80, ay=96, arrowhead=2, arrowsize=1.3, arrowwidth=1.4, arrowcolor="black")
# right arrow, from the circle towards the label
fig.add_annotation(x=1538 / W, y=1 - 668 / H, xref="paper", yref="paper", text="", showarrow=True,
                   ax=58, ay=31, arrowhead=2, arrowsize=1.3, arrowwidth=1.4, arrowcolor="black")

fig.write_html("out.html", include_plotlyjs=True, full_html=True,
               config={"displayModeBar": False},
               post_script="document.body.style.margin='0';document.body.style.overflow='hidden';")
